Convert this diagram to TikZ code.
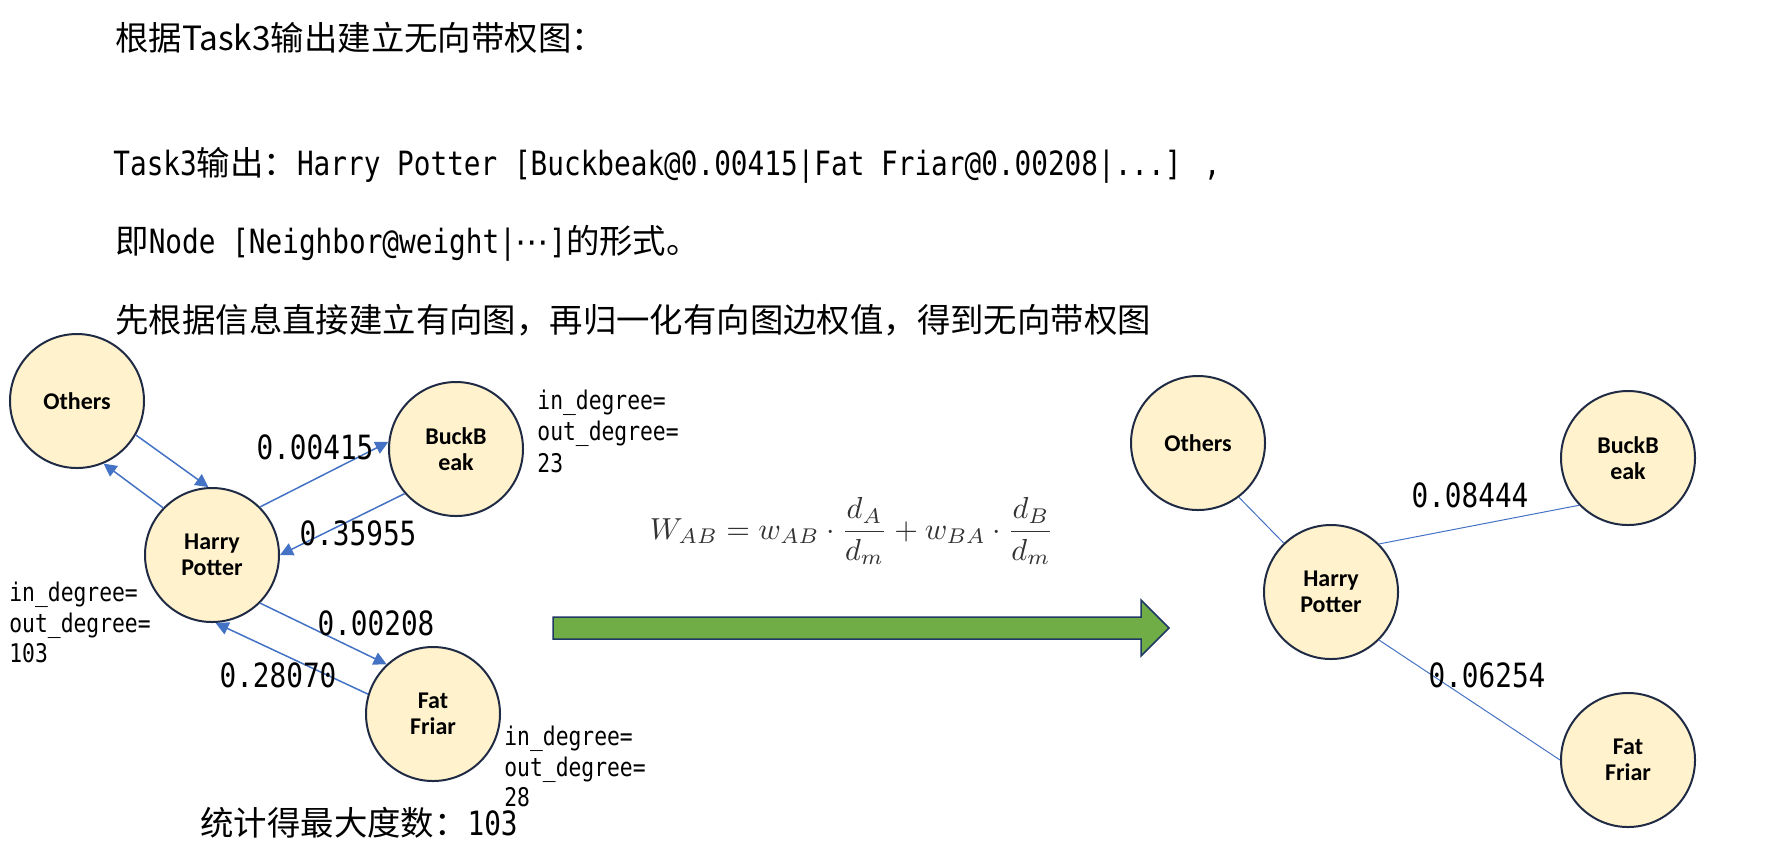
\documentclass[tikz,border=0pt]{standalone}
\usepackage{fontspec}
\usepackage{graphicx}
\usetikzlibrary{arrows.meta}
\newfontfamily\cjk{Noto Sans CJK SC}
\newfontfamily\hmono{DejaVu Sans Mono}[FakeStretch=0.83]
\newfontfamily\dejavu{DejaVu Sans}
\newfontfamily\nodefont{Carlito}
\definecolor{nodefill}{HTML}{FFF2CC}
\definecolor{nodeline}{HTML}{1F2A44}
\definecolor{edgeblue}{HTML}{4472C4}
\definecolor{arrowgreen}{HTML}{70AD47}
\definecolor{arrowline}{HTML}{1F3864}
\begin{document}
\begin{tikzpicture}[x=0.5pt,y=-0.5pt,
  person/.style={circle,draw=nodeline,line width=1pt,fill=nodefill,minimum size=67pt,inner sep=0pt,
    font=\nodefont\bfseries\fontsize{12}{13}\selectfont,align=center},
  dirarrow/.style={draw=edgeblue,line width=0.75pt,-{Triangle[length=6.5pt,width=6.5pt]}},
  undir/.style={draw=edgeblue,line width=0.5pt},
  wlabel/.style={font=\hmono\fontsize{16.7}{20}\selectfont,inner sep=0pt},
  deg/.style={font=\hmono\fontsize{12.85}{15}\selectfont,inner sep=0pt,anchor=base west},
  textline/.style={inner sep=0pt,anchor=base west,font=\fontsize{16.7}{20}\selectfont}]
\useasboundingbox (0,0) rectangle (1771,848);

% top text
\node[textline] (t1) at (115,50) {\cjk 根据Task3输出建立无向带权图：};
\node[textline] (t2) at (113,175) {\hmono Task3{\cjk 输出：}Harry Potter [Buckbeak@0.00415|Fat Friar@0.00208|...] ,};
\node[textline] (t3) at (115,253) {{\cjk 即}\hmono Node [Neighbor@weight|{\dejavu ⋯}]{\cjk 的形式。}};
\node[textline] (t4) at (115,332) {\cjk 先根据信息直接建立有向图，再归一化有向图边权值，得到无向带权图};

% left graph
\node[person] (others) at (77,401) {Others};
\node[person] (buck) at (456,449) {BuckB\\eak};
\node[person] (harry) at (212,555) {Harry\\Potter};
\node[person] (fat) at (433,714) {Fat\\Friar};

\draw[dirarrow] (others.-30) -- (harry.93);
\draw[dirarrow] (harry.136) -- (others.-67);
\draw[dirarrow] (harry.45) -- (buck.174);
\draw[dirarrow] (buck.221) -- (harry.0);
\draw[dirarrow] (harry.-45) -- (fat.133);
\draw[dirarrow] (fat.163) -- (harry.-87);

\node[wlabel] (w1) at (315,447) {0.00415};
\node[wlabel] (w2) at (358,533) {0.35955};
\node[wlabel] (w3) at (376,623) {0.00208};
\node[wlabel] (w4) at (278,675) {0.28070};

\node[deg] (bd1) at (537,409) {in\_degree=};
\node[deg] (bd2) at (537,440) {out\_degree=};
\node[deg] (bd3) at (537,472) {23};
\node[deg] (hd1) at (9,601) {in\_degree=};
\node[deg] (hd2) at (9,632) {out\_degree=};
\node[deg] (hd3) at (9,662) {103};
\node[deg] (fd1) at (504,745) {in\_degree=};
\node[deg] (fd2) at (504,776) {out\_degree=};
\node[deg] (fd3) at (504,806) {28};

\node[textline] (maxdeg) at (200,835) {{\cjk 统计得最大度数：}\hmono 103};

% formula and arrow
\node (formula) at (852,531) {\color{black!80}\resizebox{202pt}{!}{$\displaystyle W_{AB}=w_{AB}\cdot\frac{d_A}{d_m}+w_{BA}\cdot\frac{d_B}{d_m}$}};
\filldraw[fill=arrowgreen,draw=arrowline,line width=0.75pt]
  (553,617) -- (1141,617) -- (1141,600) -- (1169,628) -- (1141,656) -- (1141,639) -- (553,639) -- cycle;

% right graph
\node[person] (others2) at (1198,443) {Others};
\node[person] (buck2) at (1628,458) {BuckB\\eak};
\node[person] (harry2) at (1331,592) {Harry\\Potter};
\node[person] (fat2) at (1628,760) {Fat\\Friar};

\draw[undir] (others2.-53) -- (harry2.134);
\draw[undir] (harry2.45) -- (buck2.224);
\draw[undir] (harry2.-45) -- (fat2.180);

\node[wlabel] (w5) at (1470,495) {0.08444};
\node[wlabel] (w6) at (1487,675) {0.06254};
\end{tikzpicture}
\end{document}
